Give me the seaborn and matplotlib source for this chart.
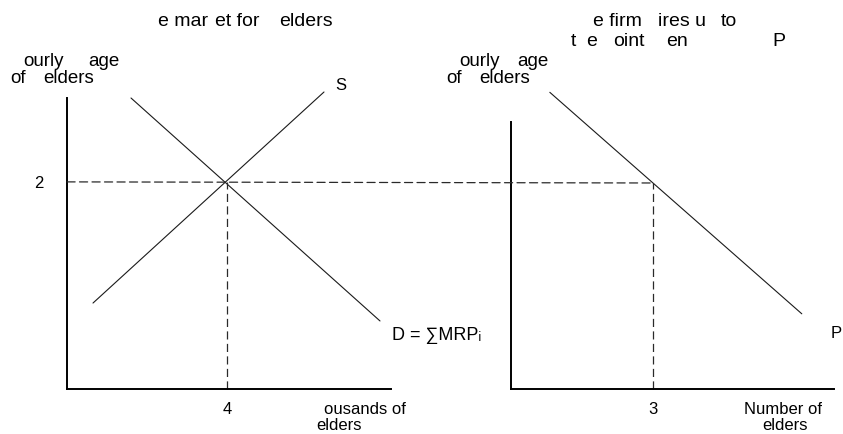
import matplotlib
matplotlib.use("Agg")
import matplotlib.pyplot as plt
import seaborn as sns
from matplotlib.patches import ConnectionPatch

# ---- data ----
market_wage = 2
market_quantity = 4
firm_quantity = 3
supply_q = [0.65, 6.425]
supply_w = [0.83, 2.868]
demand_q = [1.6, 7.825]
demand_w = [2.81, 0.657]
mrp_q = [0.82, 6.14]
mrp_w = [2.88, 0.73]
left_xticks = [4]
left_xticklabels = ["4"]
right_xticks = [3]
right_xticklabels = ["3"]
left_yticks = [2]
left_yticklabels = ["2"]

sns.set_theme(style="white")
plt.rcParams['font.family'] = ['Liberation Sans', 'DejaVu Sans']

W, H = 843, 434
fig = plt.figure(figsize=(8.43, 4.34), dpi=100)


def px_axes(x0, y0, x1, y1):
    return fig.add_axes([x0 / W, 1 - y1 / H, (x1 - x0) / W, (y1 - y0) / H])


axL = px_axes(67, 98, 391, 389)
axR = px_axes(511, 122, 834, 389)

line_kw = dict(color="#1a1a1a", linewidth=0.8)
sns.lineplot(x=supply_q, y=supply_w, ax=axL, **line_kw)
sns.lineplot(x=demand_q, y=demand_w, ax=axL, **line_kw)
sns.lineplot(x=mrp_q, y=mrp_w, ax=axR, **line_kw)

dash_kw = dict(color="#2a2a2a", linewidth=0.9, linestyle=(0, (6.5, 3.5)))
axL.plot([market_quantity, market_quantity], [0, market_wage], **dash_kw)
axR.plot([firm_quantity, firm_quantity], [0, market_wage], **dash_kw)

axL.set_xlim(0, 8.1)
axL.set_ylim(0, 2.81)
axR.set_xlim(0, 6.82)
axR.set_ylim(0, 2.592)

for ax in (axL, axR):
    for ln in ax.lines:
        ln.set_clip_on(False)
    for s in ("top", "right"):
        ax.spines[s].set_visible(False)
    for s in ("left", "bottom"):
        ax.spines[s].set_color("black")
        ax.spines[s].set_linewidth(1.4)
    ax.set_xlabel("")
    ax.set_ylabel("")
    ax.set_facecolor("none")

con = ConnectionPatch(xyA=(0, market_wage), coordsA=axL.transData,
                      xyB=(firm_quantity, market_wage), coordsB=axR.transData,
                      **dash_kw)
fig.add_artist(con)

axL.set_xticks(left_xticks)
axL.set_xticklabels(left_xticklabels)
axL.set_yticks(left_yticks)
axL.set_yticklabels(left_yticklabels)
axR.set_xticks(right_xticks)
axR.set_xticklabels(right_xticklabels)
axR.set_yticks([])

for ax in (axL, axR):
    ax.tick_params(axis="x", direction="in", length=5, width=0.6, color="#555555",
                   pad=9, labelsize=12, labelcolor="black", bottom=True)
axL.tick_params(axis="y", length=0, pad=17, labelsize=12, labelcolor="black", left=True)


def t(x, y, s, fs=12, **kw):
    fig.text(x / W, 1 - y / H, s, fontsize=fs, va="center", ha="left", color="black", **kw)


# titles (visible fragments)
for x, s in [(158, "e mar"), (215, "et for"), (279, "elders")]:
    t(x, 21, s, fs=14)
for x, s in [(593, "e firm"), (658, "ires u"), (721, "to")]:
    t(x, 21, s, fs=14)
for x, s in [(571, "t"), (586, "e"), (613, "oint"), (666, "en"), (772, "P")]:
    t(x, 42, s, fs=14)
# y labels
for x, y, s in [(23, 62, "ourly"), (88, 62, "age"), (10, 79, "of"), (43, 79, "elders"),
                (459, 61, "ourly"), (517, 61, "age"), (446, 79, "of"), (479, 79, "elders")]:
    t(x, y, s, fs=13.5)
# x labels
t(324, 410, "ousands of")
t(316, 426, "elders")
t(744, 410, "Number of")
t(762, 426, "elders")
# curve labels
t(335, 86, "S")
t(392, 335, "D = ∑MRPᵢ", fs=13)
t(831, 333, "P")

fig.savefig("out.png", dpi=100)
